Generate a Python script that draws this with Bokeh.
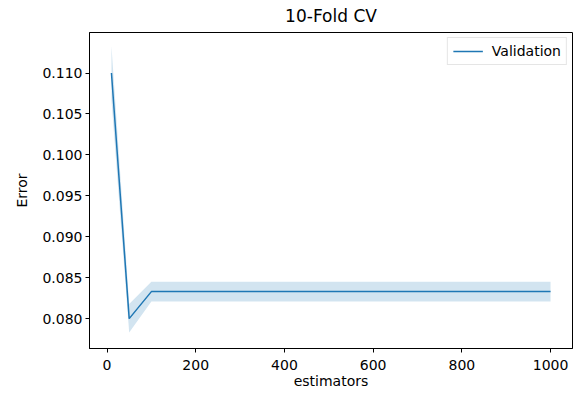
from bokeh.plotting import figure
from bokeh.models import Range1d, FixedTicker, NumeralTickFormatter, Legend, LegendItem
from bokeh.embed import file_html
from bokeh.resources import INLINE

estimators = [10, 50, 100, 200, 300, 400, 500, 600, 700, 800, 900, 1000]
error_mean = [0.1100, 0.0800, 0.0833, 0.0833, 0.0833, 0.0833, 0.0833, 0.0833, 0.0833, 0.0833, 0.0833, 0.0833]
error_low = [0.1067, 0.0783, 0.0821, 0.0821, 0.0821, 0.0821, 0.0821, 0.0821, 0.0821, 0.0821, 0.0821, 0.0821]
error_high = [0.1133, 0.0818, 0.0845, 0.0845, 0.0845, 0.0845, 0.0845, 0.0845, 0.0845, 0.0845, 0.0845, 0.0845]
x_ticks = [0, 200, 400, 600, 800, 1000]
y_ticks = [0.080, 0.085, 0.090, 0.095, 0.100, 0.105, 0.110]

FONT = "DejaVu Sans"
BLUE = "#1f77b4"

p = figure(width=573, height=393, output_backend="svg", toolbar_location=None,
           x_range=Range1d(-39.5, 1049.5), y_range=Range1d(0.07635, 0.11495),
           min_border_left=89, min_border_right=1, min_border_top=32, min_border_bottom=45)

p.title.text = "10-Fold CV"
p.title.align = "center"
p.title.vertical_align = "top"
p.title.text_font = FONT
p.title.text_font_size = "17px"
p.title.text_font_style = "normal"
p.title.text_color = "#000000"

p.varea(x=estimators, y1=error_low, y2=error_high, fill_color=BLUE, fill_alpha=0.2)
r = p.line(x=estimators, y=error_mean, line_color=BLUE, line_width=1.5)

legend = Legend(items=[LegendItem(label="Validation", renderers=[r])], location="top_right")
legend.label_text_font = FONT
legend.label_text_font_size = "14px"
legend.label_text_color = "#000000"
legend.border_line_color = "#cccccc"
legend.border_line_width = 1
legend.background_fill_alpha = 0.8
legend.margin = 5
legend.padding = 5
legend.spacing = 0
legend.glyph_width = 30
legend.glyph_height = 14
legend.label_height = 14
legend.label_standoff = 9
p.add_layout(legend)

p.xgrid.visible = False
p.ygrid.visible = False
p.outline_line_color = "#000000"
p.outline_line_width = 1

for ax in (p.xaxis[0], p.yaxis[0]):
    ax.major_tick_in = 0
    ax.major_tick_out = 4
    ax.minor_tick_in = 0
    ax.minor_tick_out = 0
    ax.axis_line_color = "#000000"
    ax.major_tick_line_color = "#000000"
    ax.major_label_text_font = FONT
    ax.major_label_text_font_size = "14px"
    ax.major_label_text_color = "#000000"
    ax.axis_label_text_font = FONT
    ax.axis_label_text_font_size = "14px"
    ax.axis_label_text_font_style = "normal"
    ax.axis_label_text_color = "#000000"

p.xaxis.ticker = FixedTicker(ticks=x_ticks)
p.yaxis.ticker = FixedTicker(ticks=y_ticks)
p.yaxis.formatter = NumeralTickFormatter(format="0.000")
p.xaxis.axis_label = "estimators"
p.yaxis.axis_label = "Error"
p.xaxis.major_label_standoff = 7
p.yaxis.major_label_standoff = 3
p.xaxis.axis_label_standoff = 0
p.yaxis.axis_label_standoff = 9

open("out.html", "w").write(file_html(p, INLINE))
